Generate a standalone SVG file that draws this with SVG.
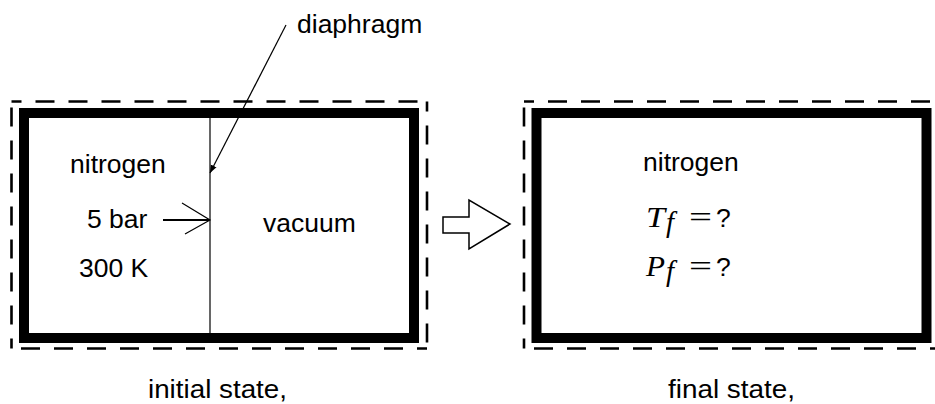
<svg xmlns="http://www.w3.org/2000/svg" width="935" height="404" viewBox="0 0 935 404">
<style>
.t{font-family:"Liberation Sans",Arial,sans-serif;font-size:26.5px;fill:#000}
.m{font-family:"Liberation Serif","Times New Roman",serif;font-size:29px;fill:#000}
.i{font-style:italic}
.dash{fill:none;stroke:#000;stroke-width:2.6;stroke-dasharray:19 14;stroke-dashoffset:9}
.wall{fill:none;stroke:#000;stroke-width:10}
.thin{fill:none;stroke:#000;stroke-width:1.2}
</style>
<defs>
<marker id="ah" viewBox="0 0 10 10" refX="10" refY="5" markerWidth="8" markerHeight="8" markerUnits="userSpaceOnUse" orient="auto">
<path d="M0,1 L10,5 L0,9 Z" fill="#000"/>
</marker>
</defs>
<g id="initial">
<path class="dash" d="M11.5,101.5 H427"/>
<path class="dash" d="M427,101.5 V348.5"/>
<path class="dash" d="M427,348.5 H11.5"/>
<path class="dash" d="M11.5,348.5 V101.5"/>
<rect class="wall" x="24" y="113" width="390" height="225"/>
<line class="thin" x1="210" y1="118" x2="210" y2="333"/>
<text class="t" x="70" y="173">nitrogen</text>
<text class="t" x="87" y="228">5 bar</text>
<text class="t" x="79" y="277">300 K</text>
<text class="t" x="263" y="232">vacuum</text>
</g>
<g id="final">
<path class="dash" d="M524,101.5 H940"/>
<path class="dash" d="M524,348.5 V101.5"/>
<path class="dash" d="M940,348.5 H524"/>
<rect class="wall" x="536.5" y="113" width="390" height="225"/>
<text class="t" x="643" y="171">nitrogen</text>
<text class="m i" x="646" y="227" textLength="19" lengthAdjust="spacingAndGlyphs">T</text>
<text class="m i" x="666" y="232" font-size="20">f</text>
<text class="m" x="689" y="227" textLength="23" lengthAdjust="spacingAndGlyphs">=</text>
<text class="t" x="716" y="227">?</text>
<text class="m i" x="646" y="276" textLength="19" lengthAdjust="spacingAndGlyphs">P</text>
<text class="m i" x="666" y="281" font-size="20">f</text>
<text class="m" x="689" y="276" textLength="23" lengthAdjust="spacingAndGlyphs">=</text>
<text class="t" x="716" y="276">?</text>
</g>
<g id="diaphragm-label">
<text class="t" x="297" y="33">diaphragm</text>
</g>
<g id="labels">
<text class="t" x="148" y="398" textLength="139" lengthAdjust="spacingAndGlyphs">initial state,</text>
<text class="t" x="668" y="398" textLength="127" lengthAdjust="spacingAndGlyphs">final state,</text>
</g>
<g id="connectors">
<path class="thin" d="M286,25 Q250,95 210,173" marker-end="url(#ah)"/>
<line x1="163" y1="220" x2="209" y2="220" stroke="#000" stroke-width="2"/>
<polyline class="thin" points="182,203 210,220 185,234" stroke-width="1.5"/>
<path d="M443,217 H469 V200 L510,224 L469,249 V233 H443 Z" fill="#fff" stroke="#000" stroke-width="1.5"/>
</g>
</svg>
